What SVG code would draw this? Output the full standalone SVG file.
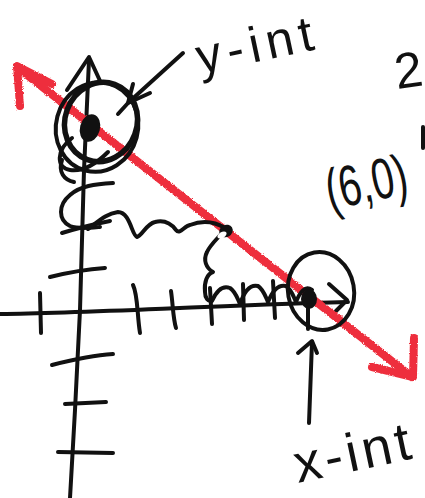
<svg xmlns="http://www.w3.org/2000/svg" width="425" height="498" viewBox="0 0 425 498">
  <style>
    .ink { fill: none; stroke: #111; stroke-width: 4; stroke-linecap: round; stroke-linejoin: round; }
    .thick { stroke-width: 5.5; }
    .red { fill: none; stroke: #ee2f3d; stroke-width: 8; stroke-linecap: round; stroke-linejoin: round; }
    .dot { fill: #111; }
    .hand { font-family: "Liberation Sans", "DejaVu Sans", sans-serif; fill: #111; }
  </style>
  <defs>
    <filter id="crayon" x="-5%" y="-5%" width="110%" height="110%">
      <feTurbulence type="fractalNoise" baseFrequency="0.9" numOctaves="2" seed="3" result="n"/>
      <feDisplacementMap in="SourceGraphic" in2="n" scale="3" xChannelSelector="R" yChannelSelector="G"/>
    </filter>
  </defs>
  <rect width="425" height="498" fill="#ffffff"/>

  <g id="axes">
    <path class="ink" d="M89,60 L84,170 L80,310 L75,410 L70,498"/>
    <path class="ink" d="M67,90 L89,57 L101,83"/>
    <path class="ink" d="M0,314 C90,313 200,306 348,302"/>
    <path class="ink" d="M329,284 L347,300 L336,311"/>
    <path class="ink" d="M50,277 C70,272 90,269 105,268"/>
    <path class="ink" d="M52,365 C75,359 95,355 113,354"/>
    <path class="ink" d="M65,404 L106,402"/>
    <path class="ink" d="M58,452 L113,453"/>
    <path class="ink" d="M40,293 L41,333"/>
    <path class="ink" d="M133,285 C138,295 137,315 140,333"/>
    <path class="ink" d="M171,291 C173,305 173,318 176,328"/>
    <path class="ink" d="M210,288 L212,324"/>
    <path class="ink" d="M243,284 L244,320"/>
    <path class="ink" d="M273,281 L275,318"/>
  </g>

  <g id="regression-line" filter="url(#crayon)">
    <path class="red" d="M17,67 L412,377"/>
    <path class="red" d="M20,106 L17,66 L52,84"/>
    <path class="red" d="M414,338 L413,377 L372,367"/>
  </g>

  <g id="path-squiggle">
    <path class="ink" d="M62,160 C58,172 64,180 74,182"/>
    <path class="ink" d="M113,183 C95,184 80,186 70,195 C58,205 58,220 70,226 C78,229 88,228 100,227"/>
    <path class="ink" d="M62,233 C75,229 95,224 110,221"/>
    <path class="ink" d="M88,229 C98,222 105,214 118,212 C130,212 132,236 137,237 C142,236 146,224 155,222 C163,220 170,222 176,230 C180,235 184,226 190,225 C200,221 212,220 225,228"/>
    <path class="ink" d="M223,232 C218,238 210,245 207,252 C203,260 206,268 213,272 C207,274 204,282 205,292 C205,298 208,302 212,301 C216,292 222,285 230,288 C236,292 238,300 240,304 C244,292 250,284 258,286 C264,290 266,298 268,302 C272,292 278,284 286,286 C292,290 294,298 296,302 C300,292 305,285 312,290"/>
    <ellipse class="dot" cx="226" cy="231" rx="7" ry="6" transform="rotate(-30 226 231)"/>
    <ellipse cx="222" cy="235" rx="5" ry="3" fill="#fff" transform="rotate(-30 222 235)"/>
  </g>

  <g id="y-int">
    <ellipse class="ink thick" cx="101" cy="122" rx="36" ry="40" transform="rotate(20 101 122)"/>
    <ellipse class="ink" cx="97" cy="127" rx="41" ry="45" transform="rotate(15 97 127)"/>
    <path class="ink" d="M72,138 C56,150 56,168 70,170 C84,172 98,162 108,152"/>
    <ellipse class="dot" cx="90" cy="128" rx="10" ry="14" transform="rotate(15 90 128)"/>
    <text class="hand" x="0" y="0" font-size="50" letter-spacing="6" transform="translate(200,74) rotate(-12)">y-int</text>
  </g>

  <g id="x-int">
    <ellipse class="ink" cx="321" cy="291" rx="33" ry="39" transform="rotate(-10 321 291)"/>
    <ellipse class="dot" cx="309" cy="299" rx="8" ry="10"/>
    <path class="ink" d="M308,305 L308,329"/>
    <text class="hand" x="0" y="0" font-size="54" letter-spacing="4" transform="translate(298,483) rotate(-12)">x-int</text>
  </g>

  <g id="point-label">
    <text class="hand" x="0" y="0" font-size="50" transform="translate(330,210) rotate(-12) scale(0.8,1.15)">(6,0)</text>
  </g>

  <g id="cut-off-notes">
    <text class="hand" x="0" y="0" font-size="50" transform="translate(397,89) rotate(-8)">2</text>
    <path class="ink" d="M423,127 L423,148"/>
  </g>

  <g id="connectors">
    <path class="ink" d="M183,53 L129,102"/>
    <path class="ink" d="M133,84 L128,103 L150,93"/>
    <path class="ink" d="M118,114 L128,103"/>
    <path class="ink" d="M309,423 L312,342"/>
    <path class="ink" d="M298,353 L312,341 L317,353"/>
  </g>
</svg>
